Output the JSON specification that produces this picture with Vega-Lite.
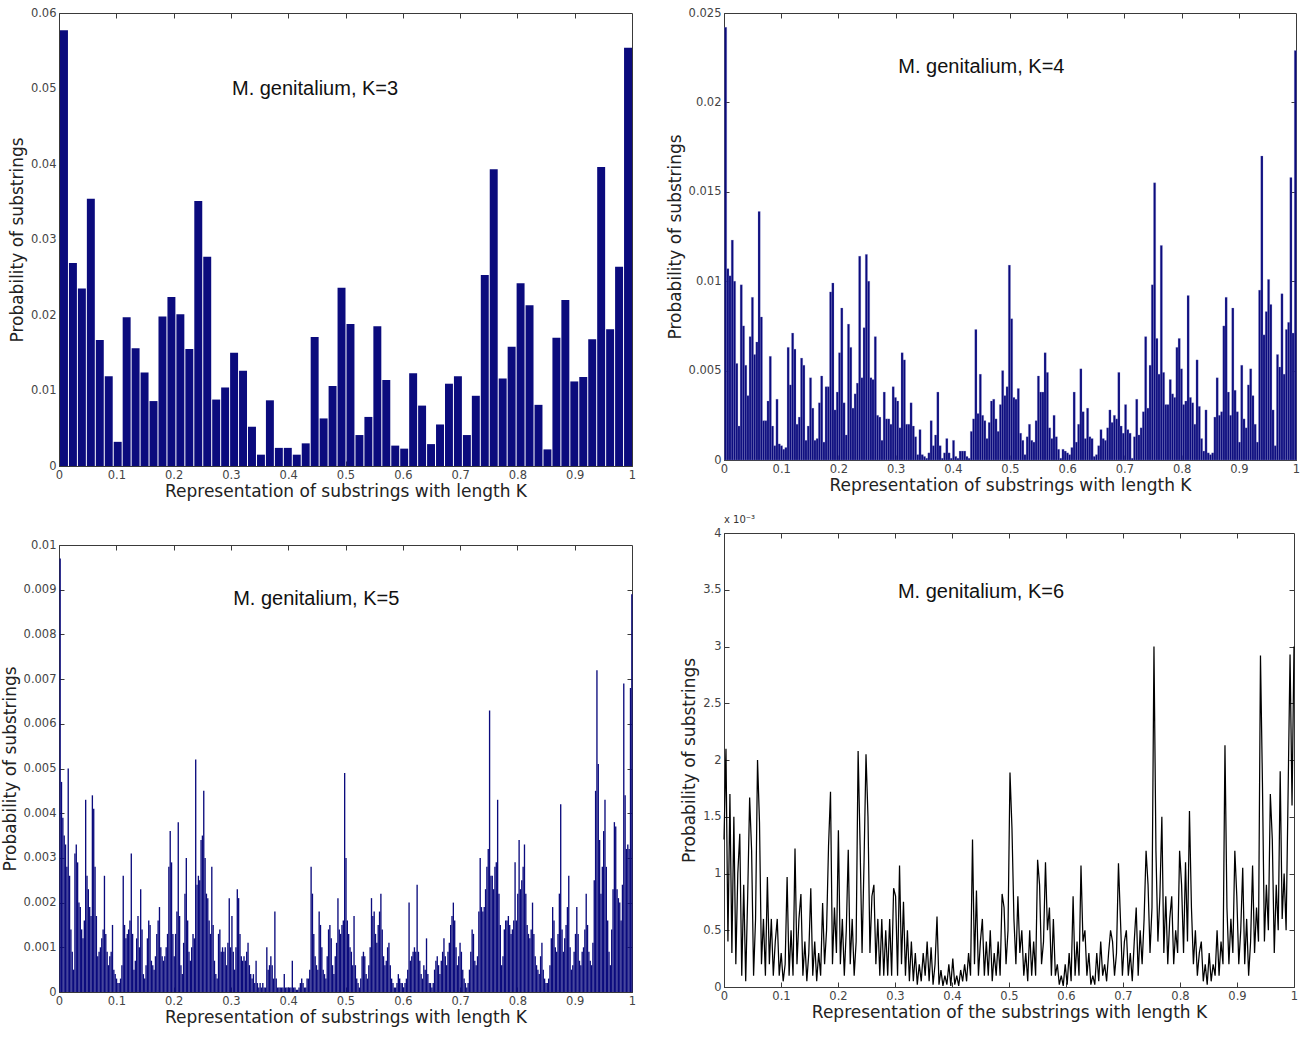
{
"$schema": "https://vega.github.io/schema/vega-lite/v6.json",
"background": "white",
"padding": {"left": 0, "top": 6, "right": 0, "bottom": 2},
"config": {
  "font": "DejaVu Sans",
  "view": {"stroke": "#3a3a3a", "strokeWidth": 1},
  "axis": {"grid": false, "domainColor": "#3a3a3a", "tickColor": "#3a3a3a", "tickSize": -5, "labelPadding": 8, "labelFont": "DejaVu Sans", "labelFontSize": 11.5, "labelColor": "#444", "titleFont": "DejaVu Sans", "titleFontSize": 17, "titleFontWeight": "normal", "titleColor": "#222"},
  "axisX": {"titlePadding": 3, "labelFlush": false},
  "axisY": {"titlePadding": 4}
},
"datasets": {
"k3": [{"i":0,"p":0.0577},{"i":1,"p":0.0269},{"i":2,"p":0.0235},{"i":3,"p":0.0354},{"i":4,"p":0.0167},{"i":5,"p":0.0119},{"i":6,"p":0.0032},{"i":7,"p":0.0197},{"i":8,"p":0.0156},{"i":9,"p":0.0124},{"i":10,"p":0.0086},{"i":11,"p":0.0198},{"i":12,"p":0.0224},{"i":13,"p":0.0201},{"i":14,"p":0.0155},{"i":15,"p":0.0351},{"i":16,"p":0.0277},{"i":17,"p":0.0088},{"i":18,"p":0.0104},{"i":19,"p":0.015},{"i":20,"p":0.0126},{"i":21,"p":0.0052},{"i":22,"p":0.0015},{"i":23,"p":0.0087},{"i":24,"p":0.0024},{"i":25,"p":0.0024},{"i":26,"p":0.0015},{"i":27,"p":0.003},{"i":28,"p":0.0171},{"i":29,"p":0.0063},{"i":30,"p":0.0106},{"i":31,"p":0.0236},{"i":32,"p":0.0188},{"i":33,"p":0.0041},{"i":34,"p":0.0065},{"i":35,"p":0.0185},{"i":36,"p":0.0114},{"i":37,"p":0.0027},{"i":38,"p":0.0023},{"i":39,"p":0.0123},{"i":40,"p":0.008},{"i":41,"p":0.0029},{"i":42,"p":0.0055},{"i":43,"p":0.0109},{"i":44,"p":0.0119},{"i":45,"p":0.0041},{"i":46,"p":0.0093},{"i":47,"p":0.0253},{"i":48,"p":0.0393},{"i":49,"p":0.0116},{"i":50,"p":0.0158},{"i":51,"p":0.0242},{"i":52,"p":0.0213},{"i":53,"p":0.0081},{"i":54,"p":0.0022},{"i":55,"p":0.017},{"i":56,"p":0.022},{"i":57,"p":0.0112},{"i":58,"p":0.0118},{"i":59,"p":0.0168},{"i":60,"p":0.0396},{"i":61,"p":0.0181},{"i":62,"p":0.0264},{"i":63,"p":0.0554}],
"k4": [{"i":0,"p":0.0242},{"i":1,"p":0.0107},{"i":2,"p":0.0103},{"i":3,"p":0.0123},{"i":4,"p":0.01},{"i":5,"p":0.0054},{"i":6,"p":0.0019},{"i":7,"p":0.0098},{"i":8,"p":0.0075},{"i":9,"p":0.0053},{"i":10,"p":0.0036},{"i":11,"p":0.0069},{"i":12,"p":0.0091},{"i":13,"p":0.0059},{"i":14,"p":0.0066},{"i":15,"p":0.0139},{"i":16,"p":0.008},{"i":17,"p":0.0022},{"i":18,"p":0.0022},{"i":19,"p":0.0033},{"i":20,"p":0.0058},{"i":21,"p":0.0019},{"i":22,"p":0.0008},{"i":23,"p":0.0034},{"i":24,"p":0.0009},{"i":25,"p":0.0008},{"i":26,"p":0.0006},{"i":27,"p":0.0007},{"i":28,"p":0.0063},{"i":29,"p":0.0042},{"i":30,"p":0.0071},{"i":31,"p":0.0062},{"i":32,"p":0.002},{"i":33,"p":0.0024},{"i":34,"p":0.0057},{"i":35,"p":0.0053},{"i":36,"p":0.0011},{"i":37,"p":0.0019},{"i":38,"p":0.0046},{"i":39,"p":0.0029},{"i":40,"p":0.0011},{"i":41,"p":0.0012},{"i":42,"p":0.0032},{"i":43,"p":0.0047},{"i":44,"p":0.001},{"i":45,"p":0.0041},{"i":46,"p":0.0041},{"i":47,"p":0.0094},{"i":48,"p":0.0099},{"i":49,"p":0.0028},{"i":50,"p":0.0038},{"i":51,"p":0.006},{"i":52,"p":0.0085},{"i":53,"p":0.0032},{"i":54,"p":0.0014},{"i":55,"p":0.0076},{"i":56,"p":0.0063},{"i":57,"p":0.0029},{"i":58,"p":0.0037},{"i":59,"p":0.0043},{"i":60,"p":0.0114},{"i":61,"p":0.0046},{"i":62,"p":0.0074},{"i":63,"p":0.0115},{"i":64,"p":0.01},{"i":65,"p":0.0046},{"i":66,"p":0.0045},{"i":67,"p":0.0069},{"i":68,"p":0.0025},{"i":69,"p":0.0024},{"i":70,"p":0.0011},{"i":71,"p":0.0038},{"i":72,"p":0.0023},{"i":73,"p":0.0023},{"i":74,"p":0.002},{"i":75,"p":0.0041},{"i":76,"p":0.0035},{"i":77,"p":0.0033},{"i":78,"p":0.0018},{"i":79,"p":0.006},{"i":80,"p":0.0056},{"i":81,"p":0.002},{"i":82,"p":0.002},{"i":83,"p":0.0032},{"i":84,"p":0.0019},{"i":85,"p":0.0013},{"i":86,"p":0.0003},{"i":87,"p":0.0017},{"i":88,"p":0.0003},{"i":89,"p":0.0002},{"i":90,"p":0.0001},{"i":91,"p":0.0004},{"i":92,"p":0.0022},{"i":93,"p":0.0008},{"i":94,"p":0.0014},{"i":95,"p":0.0038},{"i":96,"p":0.0008},{"i":97,"p":0.0001},{"i":98,"p":0.0004},{"i":99,"p":0.0012},{"i":100,"p":0.0004},{"i":101,"p":0.0001},{"i":102,"p":0.0011},{"i":103,"p":0.0002},{"i":104,"p":0.0001},{"i":105,"p":0.0005},{"i":106,"p":0.0005},{"i":107,"p":0.0005},{"i":108,"p":0.0002},{"i":109,"p":0.0001},{"i":110,"p":0.0016},{"i":111,"p":0.0023},{"i":112,"p":0.0073},{"i":113,"p":0.0026},{"i":114,"p":0.0048},{"i":115,"p":0.0025},{"i":116,"p":0.0022},{"i":117,"p":0.0012},{"i":118,"p":0.0021},{"i":119,"p":0.0033},{"i":120,"p":0.0034},{"i":121,"p":0.0023},{"i":122,"p":0.0016},{"i":123,"p":0.0031},{"i":124,"p":0.005},{"i":125,"p":0.0036},{"i":126,"p":0.0041},{"i":127,"p":0.0109},{"i":128,"p":0.0079},{"i":129,"p":0.0035},{"i":130,"p":0.0034},{"i":131,"p":0.004},{"i":132,"p":0.0015},{"i":133,"p":0.0011},{"i":134,"p":0.0003},{"i":135,"p":0.0013},{"i":136,"p":0.002},{"i":137,"p":0.0011},{"i":138,"p":0.001},{"i":139,"p":0.0022},{"i":140,"p":0.0047},{"i":141,"p":0.0038},{"i":142,"p":0.0038},{"i":143,"p":0.006},{"i":144,"p":0.0049},{"i":145,"p":0.0018},{"i":146,"p":0.0012},{"i":147,"p":0.0025},{"i":148,"p":0.0013},{"i":149,"p":0.0006},{"i":150,"p":0.0001},{"i":151,"p":0.0006},{"i":152,"p":0.0005},{"i":153,"p":0.0004},{"i":154,"p":0.0003},{"i":155,"p":0.0007},{"i":156,"p":0.0038},{"i":157,"p":0.001},{"i":158,"p":0.002},{"i":159,"p":0.0051},{"i":160,"p":0.0027},{"i":161,"p":0.0012},{"i":162,"p":0.0029},{"i":163,"p":0.0013},{"i":164,"p":0.0012},{"i":165,"p":0.0002},{"i":166,"p":0.0003},{"i":167,"p":0.0008},{"i":168,"p":0.0017},{"i":169,"p":0.0012},{"i":170,"p":0.0011},{"i":171,"p":0.0018},{"i":172,"p":0.0028},{"i":173,"p":0.0021},{"i":174,"p":0.0025},{"i":175,"p":0.0023},{"i":176,"p":0.0049},{"i":177,"p":0.0019},{"i":178,"p":0.0015},{"i":179,"p":0.0031},{"i":180,"p":0.0017},{"i":181,"p":0.0015},{"i":182,"p":0.0001},{"i":183,"p":0.0013},{"i":184,"p":0.0034},{"i":185,"p":0.0014},{"i":186,"p":0.0018},{"i":187,"p":0.0027},{"i":188,"p":0.0069},{"i":189,"p":0.0029},{"i":190,"p":0.0053},{"i":191,"p":0.0098},{"i":192,"p":0.0155},{"i":193,"p":0.0068},{"i":194,"p":0.0048},{"i":195,"p":0.012},{"i":196,"p":0.0049},{"i":197,"p":0.0031},{"i":198,"p":0.0031},{"i":199,"p":0.0045},{"i":200,"p":0.0037},{"i":201,"p":0.0035},{"i":202,"p":0.0063},{"i":203,"p":0.0068},{"i":204,"p":0.0051},{"i":205,"p":0.0031},{"i":206,"p":0.0033},{"i":207,"p":0.0092},{"i":208,"p":0.0035},{"i":209,"p":0.0032},{"i":210,"p":0.002},{"i":211,"p":0.0056},{"i":212,"p":0.003},{"i":213,"p":0.0012},{"i":214,"p":0.0005},{"i":215,"p":0.0028},{"i":216,"p":0.0004},{"i":217,"p":0.0003},{"i":218,"p":0.0004},{"i":219,"p":0.0024},{"i":220,"p":0.0046},{"i":221,"p":0.0025},{"i":222,"p":0.0027},{"i":223,"p":0.0075},{"i":224,"p":0.0091},{"i":225,"p":0.0038},{"i":226,"p":0.0025},{"i":227,"p":0.0085},{"i":228,"p":0.0039},{"i":229,"p":0.0027},{"i":230,"p":0.001},{"i":231,"p":0.0053},{"i":232,"p":0.0023},{"i":233,"p":0.0018},{"i":234,"p":0.0042},{"i":235,"p":0.0051},{"i":236,"p":0.0036},{"i":237,"p":0.002},{"i":238,"p":0.001},{"i":239,"p":0.0095},{"i":240,"p":0.017},{"i":241,"p":0.007},{"i":242,"p":0.0083},{"i":243,"p":0.0101},{"i":244,"p":0.0087},{"i":245,"p":0.0028},{"i":246,"p":0.0008},{"i":247,"p":0.0059},{"i":248,"p":0.0052},{"i":249,"p":0.0093},{"i":250,"p":0.0048},{"i":251,"p":0.0073},{"i":252,"p":0.0077},{"i":253,"p":0.0158},{"i":254,"p":0.0071},{"i":255,"p":0.0229}],
"k5": [{"i":0,"p":0.0097},{"i":1,"p":0.0047},{"i":2,"p":0.0039},{"i":3,"p":0.0035},{"i":4,"p":0.0033},{"i":5,"p":0.0028},{"i":6,"p":0.005},{"i":7,"p":0.0026},{"i":8,"p":0.0014},{"i":9,"p":0.0009},{"i":10,"p":0.0005},{"i":11,"p":0.0031},{"i":12,"p":0.0033},{"i":13,"p":0.0029},{"i":14,"p":0.002},{"i":15,"p":0.0019},{"i":16,"p":0.0014},{"i":17,"p":0.0012},{"i":18,"p":0.0016},{"i":19,"p":0.0043},{"i":20,"p":0.0026},{"i":21,"p":0.0023},{"i":22,"p":0.0019},{"i":23,"p":0.0017},{"i":24,"p":0.0044},{"i":25,"p":0.0041},{"i":26,"p":0.0028},{"i":27,"p":0.0017},{"i":28,"p":0.0008},{"i":29,"p":0.0009},{"i":30,"p":0.001},{"i":31,"p":0.0012},{"i":32,"p":0.0014},{"i":33,"p":0.0026},{"i":34,"p":0.0013},{"i":35,"p":0.0009},{"i":36,"p":0.0006},{"i":37,"p":0.0008},{"i":38,"p":0.0009},{"i":39,"p":0.0015},{"i":40,"p":0.0005},{"i":41,"p":0.0004},{"i":42,"p":0.0003},{"i":43,"p":0.0002},{"i":44,"p":0.0002},{"i":45,"p":0.0003},{"i":46,"p":0.0006},{"i":47,"p":0.0026},{"i":48,"p":0.0015},{"i":49,"p":0.0012},{"i":50,"p":0.0013},{"i":51,"p":0.0014},{"i":52,"p":0.0016},{"i":53,"p":0.0031},{"i":54,"p":0.0013},{"i":55,"p":0.0005},{"i":56,"p":0.0007},{"i":57,"p":0.0012},{"i":58,"p":0.0017},{"i":59,"p":0.001},{"i":60,"p":0.0023},{"i":61,"p":0.0014},{"i":62,"p":0.0004},{"i":63,"p":0.0003},{"i":64,"p":0.0006},{"i":65,"p":0.0012},{"i":66,"p":0.0016},{"i":67,"p":0.0015},{"i":68,"p":0.0007},{"i":69,"p":0.0006},{"i":70,"p":0.0005},{"i":71,"p":0.0008},{"i":72,"p":0.0013},{"i":73,"p":0.0016},{"i":74,"p":0.0019},{"i":75,"p":0.001},{"i":76,"p":0.0008},{"i":77,"p":0.0007},{"i":78,"p":0.0008},{"i":79,"p":0.001},{"i":80,"p":0.0013},{"i":81,"p":0.0028},{"i":82,"p":0.0036},{"i":83,"p":0.0029},{"i":84,"p":0.0013},{"i":85,"p":0.0008},{"i":86,"p":0.0013},{"i":87,"p":0.0018},{"i":88,"p":0.0038},{"i":89,"p":0.0017},{"i":90,"p":0.0006},{"i":91,"p":0.0004},{"i":92,"p":0.0011},{"i":93,"p":0.0022},{"i":94,"p":0.003},{"i":95,"p":0.0016},{"i":96,"p":0.0009},{"i":97,"p":0.0007},{"i":98,"p":0.001},{"i":99,"p":0.0013},{"i":100,"p":0.0012},{"i":101,"p":0.0052},{"i":102,"p":0.0024},{"i":103,"p":0.0026},{"i":104,"p":0.0025},{"i":105,"p":0.0034},{"i":106,"p":0.0035},{"i":107,"p":0.0045},{"i":108,"p":0.003},{"i":109,"p":0.0022},{"i":110,"p":0.0021},{"i":111,"p":0.0016},{"i":112,"p":0.0013},{"i":113,"p":0.0028},{"i":114,"p":0.0015},{"i":115,"p":0.0007},{"i":116,"p":0.0004},{"i":117,"p":0.0003},{"i":118,"p":0.0013},{"i":119,"p":0.0014},{"i":120,"p":0.0009},{"i":121,"p":0.001},{"i":122,"p":0.0009},{"i":123,"p":0.001},{"i":124,"p":0.0006},{"i":125,"p":0.0011},{"i":126,"p":0.0021},{"i":127,"p":0.001},{"i":128,"p":0.0017},{"i":129,"p":0.0009},{"i":130,"p":0.0005},{"i":131,"p":0.001},{"i":132,"p":0.0023},{"i":133,"p":0.0021},{"i":134,"p":0.0013},{"i":135,"p":0.0008},{"i":136,"p":0.0007},{"i":137,"p":0.0008},{"i":138,"p":0.0007},{"i":139,"p":0.0009},{"i":140,"p":0.0011},{"i":141,"p":0.0006},{"i":142,"p":0.0004},{"i":143,"p":0.0003},{"i":144,"p":0.0004},{"i":145,"p":0.0002},{"i":146,"p":0.0007},{"i":147,"p":0.0002},{"i":148,"p":0.0001},{"i":149,"p":0.0002},{"i":150,"p":0.0001},{"i":151,"p":0.0002},{"i":152,"p":0.0001},{"i":153,"p":0.0001},{"i":154,"p":0.001},{"i":155,"p":0.0005},{"i":156,"p":0.0006},{"i":157,"p":0.0008},{"i":158,"p":0.0006},{"i":159,"p":0.0003},{"i":160,"p":0.0018},{"i":161,"p":0.0003},{"i":162,"p":0.0001},{"i":163,"p":0.0001},{"i":164,"p":0.0001},{"i":165,"p":0.0001},{"i":166,"p":0.0001},{"i":167,"p":0.0004},{"i":168,"p":0.0001},{"i":169,"p":0.0001},{"i":170,"p":0.0001},{"i":171,"p":0.0001},{"i":172,"p":0.0001},{"i":173,"p":0.0007},{"i":174,"p":0.0001},{"i":175,"p":0.0001},{"i":176,"p":0.00005},{"i":177,"p":0.00005},{"i":178,"p":0.0001},{"i":179,"p":0.0002},{"i":180,"p":0.0003},{"i":181,"p":0.0002},{"i":182,"p":0.0001},{"i":183,"p":0.0001},{"i":184,"p":0.0003},{"i":185,"p":0.0003},{"i":186,"p":0.0005},{"i":187,"p":0.0028},{"i":188,"p":0.0022},{"i":189,"p":0.0013},{"i":190,"p":0.0008},{"i":191,"p":0.0006},{"i":192,"p":0.0005},{"i":193,"p":0.0018},{"i":194,"p":0.0015},{"i":195,"p":0.001},{"i":196,"p":0.0005},{"i":197,"p":0.0004},{"i":198,"p":0.0003},{"i":199,"p":0.0008},{"i":200,"p":0.0014},{"i":201,"p":0.0015},{"i":202,"p":0.0012},{"i":203,"p":0.0006},{"i":204,"p":0.0004},{"i":205,"p":0.0008},{"i":206,"p":0.0011},{"i":207,"p":0.0021},{"i":208,"p":0.0014},{"i":209,"p":0.0013},{"i":210,"p":0.0015},{"i":211,"p":0.0016},{"i":212,"p":0.0049},{"i":213,"p":0.003},{"i":214,"p":0.0016},{"i":215,"p":0.0013},{"i":216,"p":0.001},{"i":217,"p":0.0009},{"i":218,"p":0.0006},{"i":219,"p":0.0017},{"i":220,"p":0.0006},{"i":221,"p":0.0003},{"i":222,"p":0.0002},{"i":223,"p":0.0001},{"i":224,"p":0.0003},{"i":225,"p":0.0008},{"i":226,"p":0.0009},{"i":227,"p":0.0008},{"i":228,"p":0.0004},{"i":229,"p":0.0003},{"i":230,"p":0.0006},{"i":231,"p":0.001},{"i":232,"p":0.0021},{"i":233,"p":0.0017},{"i":234,"p":0.0018},{"i":235,"p":0.0013},{"i":236,"p":0.0011},{"i":237,"p":0.0015},{"i":238,"p":0.0018},{"i":239,"p":0.0022},{"i":240,"p":0.0014},{"i":241,"p":0.0008},{"i":242,"p":0.0006},{"i":243,"p":0.0007},{"i":244,"p":0.001},{"i":245,"p":0.0011},{"i":246,"p":0.0006},{"i":247,"p":0.0003},{"i":248,"p":0.0002},{"i":249,"p":0.0001},{"i":250,"p":0.0001},{"i":251,"p":0.0002},{"i":252,"p":0.0004},{"i":253,"p":0.0003},{"i":254,"p":0.0002},{"i":255,"p":0.0002},{"i":256,"p":0.0001},{"i":257,"p":0.0002},{"i":258,"p":0.0003},{"i":259,"p":0.0005},{"i":260,"p":0.002},{"i":261,"p":0.0007},{"i":262,"p":0.0008},{"i":263,"p":0.0009},{"i":264,"p":0.001},{"i":265,"p":0.0009},{"i":266,"p":0.0024},{"i":267,"p":0.0009},{"i":268,"p":0.0007},{"i":269,"p":0.0004},{"i":270,"p":0.0003},{"i":271,"p":0.0006},{"i":272,"p":0.0005},{"i":273,"p":0.0012},{"i":274,"p":0.0004},{"i":275,"p":0.0002},{"i":276,"p":0.0002},{"i":277,"p":0.0001},{"i":278,"p":0.0002},{"i":279,"p":0.0005},{"i":280,"p":0.0007},{"i":281,"p":0.0008},{"i":282,"p":0.0006},{"i":283,"p":0.0004},{"i":284,"p":0.0007},{"i":285,"p":0.0009},{"i":286,"p":0.0012},{"i":287,"p":0.0008},{"i":288,"p":0.0006},{"i":289,"p":0.0009},{"i":290,"p":0.0011},{"i":291,"p":0.0015},{"i":292,"p":0.0017},{"i":293,"p":0.002},{"i":294,"p":0.0016},{"i":295,"p":0.001},{"i":296,"p":0.0006},{"i":297,"p":0.0008},{"i":298,"p":0.0011},{"i":299,"p":0.0009},{"i":300,"p":0.0005},{"i":301,"p":0.0003},{"i":302,"p":0.0002},{"i":303,"p":0.0001},{"i":304,"p":0.0002},{"i":305,"p":0.0005},{"i":306,"p":0.0009},{"i":307,"p":0.0014},{"i":308,"p":0.0013},{"i":309,"p":0.0007},{"i":310,"p":0.0006},{"i":311,"p":0.0008},{"i":312,"p":0.0018},{"i":313,"p":0.003},{"i":314,"p":0.0019},{"i":315,"p":0.0018},{"i":316,"p":0.0019},{"i":317,"p":0.0023},{"i":318,"p":0.0028},{"i":319,"p":0.0032},{"i":320,"p":0.0063},{"i":321,"p":0.0026},{"i":322,"p":0.0026},{"i":323,"p":0.0023},{"i":324,"p":0.0028},{"i":325,"p":0.0029},{"i":326,"p":0.0043},{"i":327,"p":0.0022},{"i":328,"p":0.0015},{"i":329,"p":0.0006},{"i":330,"p":0.0008},{"i":331,"p":0.0014},{"i":332,"p":0.0016},{"i":333,"p":0.0016},{"i":334,"p":0.0017},{"i":335,"p":0.0015},{"i":336,"p":0.0013},{"i":337,"p":0.0014},{"i":338,"p":0.0016},{"i":339,"p":0.0029},{"i":340,"p":0.0016},{"i":341,"p":0.0022},{"i":342,"p":0.0034},{"i":343,"p":0.0023},{"i":344,"p":0.0025},{"i":345,"p":0.0028},{"i":346,"p":0.0033},{"i":347,"p":0.0022},{"i":348,"p":0.0015},{"i":349,"p":0.0013},{"i":350,"p":0.0012},{"i":351,"p":0.0014},{"i":352,"p":0.002},{"i":353,"p":0.0013},{"i":354,"p":0.0008},{"i":355,"p":0.0006},{"i":356,"p":0.0005},{"i":357,"p":0.0004},{"i":358,"p":0.0008},{"i":359,"p":0.0011},{"i":360,"p":0.0005},{"i":361,"p":0.0003},{"i":362,"p":0.0002},{"i":363,"p":0.0002},{"i":364,"p":0.0003},{"i":365,"p":0.0006},{"i":366,"p":0.0012},{"i":367,"p":0.0019},{"i":368,"p":0.0016},{"i":369,"p":0.001},{"i":370,"p":0.0009},{"i":371,"p":0.0013},{"i":372,"p":0.0022},{"i":373,"p":0.0042},{"i":374,"p":0.0014},{"i":375,"p":0.0009},{"i":376,"p":0.0012},{"i":377,"p":0.0015},{"i":378,"p":0.0019},{"i":379,"p":0.0026},{"i":380,"p":0.001},{"i":381,"p":0.0005},{"i":382,"p":0.0006},{"i":383,"p":0.0009},{"i":384,"p":0.0013},{"i":385,"p":0.0019},{"i":386,"p":0.0013},{"i":387,"p":0.0007},{"i":388,"p":0.0006},{"i":389,"p":0.0009},{"i":390,"p":0.001},{"i":391,"p":0.0014},{"i":392,"p":0.0022},{"i":393,"p":0.0015},{"i":394,"p":0.0009},{"i":395,"p":0.0007},{"i":396,"p":0.0006},{"i":397,"p":0.0011},{"i":398,"p":0.0025},{"i":399,"p":0.0045},{"i":400,"p":0.0072},{"i":401,"p":0.0051},{"i":402,"p":0.0034},{"i":403,"p":0.0022},{"i":404,"p":0.0028},{"i":405,"p":0.0036},{"i":406,"p":0.0043},{"i":407,"p":0.0028},{"i":408,"p":0.0016},{"i":409,"p":0.0009},{"i":410,"p":0.0006},{"i":411,"p":0.0014},{"i":412,"p":0.0023},{"i":413,"p":0.0038},{"i":414,"p":0.0037},{"i":415,"p":0.0023},{"i":416,"p":0.0021},{"i":417,"p":0.002},{"i":418,"p":0.0016},{"i":419,"p":0.0024},{"i":420,"p":0.0069},{"i":421,"p":0.0044},{"i":422,"p":0.0032},{"i":423,"p":0.0033},{"i":424,"p":0.0032},{"i":425,"p":0.0068},{"i":426,"p":0.0089}],
"k6": [{"i":0,"p":1.3},{"i":1,"p":2.1},{"i":2,"p":0.4},{"i":3,"p":1.7},{"i":4,"p":0.3},{"i":5,"p":1.5},{"i":6,"p":0.2},{"i":7,"p":1.0},{"i":8,"p":1.35},{"i":9,"p":0.1},{"i":10,"p":0.9},{"i":11,"p":0.05},{"i":12,"p":0.8},{"i":13,"p":1.67},{"i":14,"p":1.2},{"i":15,"p":0.1},{"i":16,"p":0.6},{"i":17,"p":2.0},{"i":18,"p":1.45},{"i":19,"p":0.2},{"i":20,"p":0.6},{"i":21,"p":0.1},{"i":22,"p":0.97},{"i":23,"p":0.2},{"i":24,"p":0.6},{"i":25,"p":0.1},{"i":26,"p":0.4},{"i":27,"p":0.6},{"i":28,"p":0.1},{"i":29,"p":0.3},{"i":30,"p":0.05},{"i":31,"p":0.2},{"i":32,"p":0.97},{"i":33,"p":0.1},{"i":34,"p":0.5},{"i":35,"p":0.1},{"i":36,"p":1.22},{"i":37,"p":0.2},{"i":38,"p":0.6},{"i":39,"p":0.82},{"i":40,"p":0.1},{"i":41,"p":0.4},{"i":42,"p":0.05},{"i":43,"p":0.3},{"i":44,"p":0.87},{"i":45,"p":0.1},{"i":46,"p":0.4},{"i":47,"p":0.05},{"i":48,"p":0.3},{"i":49,"p":0.1},{"i":50,"p":0.74},{"i":51,"p":0.2},{"i":52,"p":0.5},{"i":53,"p":1.24},{"i":54,"p":1.72},{"i":55,"p":0.2},{"i":56,"p":0.7},{"i":57,"p":0.3},{"i":58,"p":1.38},{"i":59,"p":0.2},{"i":60,"p":0.6},{"i":61,"p":0.1},{"i":62,"p":0.5},{"i":63,"p":1.21},{"i":64,"p":0.2},{"i":65,"p":0.6},{"i":66,"p":0.1},{"i":67,"p":0.4},{"i":68,"p":2.08},{"i":69,"p":1.25},{"i":70,"p":0.3},{"i":71,"p":1.1},{"i":72,"p":2.05},{"i":73,"p":1.5},{"i":74,"p":0.3},{"i":75,"p":0.8},{"i":76,"p":0.9},{"i":77,"p":0.2},{"i":78,"p":0.6},{"i":79,"p":0.1},{"i":80,"p":0.6},{"i":81,"p":0.1},{"i":82,"p":0.5},{"i":83,"p":0.1},{"i":84,"p":0.6},{"i":85,"p":0.1},{"i":86,"p":0.87},{"i":87,"p":0.8},{"i":88,"p":0.1},{"i":89,"p":1.07},{"i":90,"p":0.2},{"i":91,"p":0.75},{"i":92,"p":0.1},{"i":93,"p":0.5},{"i":94,"p":0.05},{"i":95,"p":0.4},{"i":96,"p":0.05},{"i":97,"p":0.3},{"i":98,"p":0.02},{"i":99,"p":0.2},{"i":100,"p":0.05},{"i":101,"p":0.3},{"i":102,"p":0.1},{"i":103,"p":0.4},{"i":104,"p":0.05},{"i":105,"p":0.35},{"i":106,"p":0.02},{"i":107,"p":0.2},{"i":108,"p":0.62},{"i":109,"p":0.02},{"i":110,"p":0.15},{"i":111,"p":0.01},{"i":112,"p":0.1},{"i":113,"p":0.02},{"i":114,"p":0.2},{"i":115,"p":0.01},{"i":116,"p":0.25},{"i":117,"p":0.02},{"i":118,"p":0.1},{"i":119,"p":0.01},{"i":120,"p":0.15},{"i":121,"p":0.05},{"i":122,"p":0.2},{"i":123,"p":0.05},{"i":124,"p":0.3},{"i":125,"p":0.1},{"i":126,"p":1.3},{"i":127,"p":0.2},{"i":128,"p":0.85},{"i":129,"p":0.1},{"i":130,"p":0.4},{"i":131,"p":0.6},{"i":132,"p":0.1},{"i":133,"p":0.4},{"i":134,"p":0.1},{"i":135,"p":0.5},{"i":136,"p":0.05},{"i":137,"p":0.3},{"i":138,"p":0.1},{"i":139,"p":0.4},{"i":140,"p":0.1},{"i":141,"p":0.82},{"i":142,"p":0.7},{"i":143,"p":0.2},{"i":144,"p":0.5},{"i":145,"p":1.89},{"i":146,"p":1.4},{"i":147,"p":0.6},{"i":148,"p":0.2},{"i":149,"p":0.8},{"i":150,"p":0.3},{"i":151,"p":0.5},{"i":152,"p":0.1},{"i":153,"p":0.3},{"i":154,"p":0.05},{"i":155,"p":0.5},{"i":156,"p":0.1},{"i":157,"p":0.4},{"i":158,"p":0.1},{"i":159,"p":1.12},{"i":160,"p":0.9},{"i":161,"p":0.2},{"i":162,"p":0.4},{"i":163,"p":1.1},{"i":164,"p":0.5},{"i":165,"p":0.7},{"i":166,"p":0.1},{"i":167,"p":0.6},{"i":168,"p":0.1},{"i":169,"p":0.2},{"i":170,"p":0.02},{"i":171,"p":0.1},{"i":172,"p":0.01},{"i":173,"p":0.2},{"i":174,"p":0.02},{"i":175,"p":0.3},{"i":176,"p":0.05},{"i":177,"p":0.8},{"i":178,"p":0.1},{"i":179,"p":0.4},{"i":180,"p":0.1},{"i":181,"p":1.07},{"i":182,"p":0.4},{"i":183,"p":0.5},{"i":184,"p":0.1},{"i":185,"p":0.3},{"i":186,"p":0.02},{"i":187,"p":0.1},{"i":188,"p":0.02},{"i":189,"p":0.3},{"i":190,"p":0.05},{"i":191,"p":0.4},{"i":192,"p":0.1},{"i":193,"p":0.2},{"i":194,"p":0.05},{"i":195,"p":0.3},{"i":196,"p":0.5},{"i":197,"p":0.4},{"i":198,"p":0.1},{"i":199,"p":0.3},{"i":200,"p":1.09},{"i":201,"p":0.6},{"i":202,"p":0.1},{"i":203,"p":0.4},{"i":204,"p":0.5},{"i":205,"p":0.1},{"i":206,"p":0.3},{"i":207,"p":0.05},{"i":208,"p":0.4},{"i":209,"p":0.7},{"i":210,"p":0.1},{"i":211,"p":0.5},{"i":212,"p":0.2},{"i":213,"p":0.6},{"i":214,"p":1.2},{"i":215,"p":0.9},{"i":216,"p":0.3},{"i":217,"p":0.7},{"i":218,"p":3.0},{"i":219,"p":1.2},{"i":220,"p":0.4},{"i":221,"p":0.8},{"i":222,"p":1.5},{"i":223,"p":0.3},{"i":224,"p":0.8},{"i":225,"p":0.2},{"i":226,"p":0.6},{"i":227,"p":0.8},{"i":228,"p":0.2},{"i":229,"p":0.5},{"i":230,"p":0.3},{"i":231,"p":1.2},{"i":232,"p":0.9},{"i":233,"p":0.3},{"i":234,"p":1.1},{"i":235,"p":0.4},{"i":236,"p":1.55},{"i":237,"p":0.7},{"i":238,"p":0.2},{"i":239,"p":0.5},{"i":240,"p":0.1},{"i":241,"p":0.3},{"i":242,"p":0.4},{"i":243,"p":0.05},{"i":244,"p":0.2},{"i":245,"p":0.02},{"i":246,"p":0.3},{"i":247,"p":0.05},{"i":248,"p":0.2},{"i":249,"p":0.1},{"i":250,"p":0.5},{"i":251,"p":0.1},{"i":252,"p":0.4},{"i":253,"p":0.2},{"i":254,"p":2.13},{"i":255,"p":0.7},{"i":256,"p":0.2},{"i":257,"p":0.6},{"i":258,"p":0.3},{"i":259,"p":1.2},{"i":260,"p":0.8},{"i":261,"p":0.2},{"i":262,"p":0.5},{"i":263,"p":1.05},{"i":264,"p":0.2},{"i":265,"p":0.6},{"i":266,"p":0.1},{"i":267,"p":0.4},{"i":268,"p":1.07},{"i":269,"p":0.3},{"i":270,"p":0.7},{"i":271,"p":0.4},{"i":272,"p":2.92},{"i":273,"p":1.8},{"i":274,"p":0.4},{"i":275,"p":0.9},{"i":276,"p":0.5},{"i":277,"p":1.7},{"i":278,"p":1.3},{"i":279,"p":0.3},{"i":280,"p":0.9},{"i":281,"p":0.5},{"i":282,"p":1.9},{"i":283,"p":0.6},{"i":284,"p":1.0},{"i":285,"p":0.5},{"i":286,"p":1.7},{"i":287,"p":2.93},{"i":288,"p":1.6},{"i":289,"p":3.0}]
},
"spacing": 28,
"hconcat": [
 {"spacing": 38, "vconcat": [
  {"width": 573, "height": 453,
   "resolve": {"axis": {"x": "independent", "y": "independent"}},
   "layer": [
    {"data": {"name": "k3"}, "mark": {"type": "bar", "fill": "#0b0b7d", "binSpacing": 1},
     "encoding": {
      "x": {"field": "i", "type": "quantitative", "bin": {"binned": true, "step": 1}, "scale": {"domain": [0, 64], "nice": false, "zero": false}, "axis": {"title": "Representation of substrings with length K", "values": [0,6.4,12.8,19.2,25.6,32,38.4,44.8,51.2,57.6,64], "labelExpr": "format(datum.value/64, '.1~f')"}},
      "y": {"field": "p", "type": "quantitative", "scale": {"domain": [0, 0.06], "nice": false}, "axis": {"title": "Probability of substrings", "values": [0,0.01,0.02,0.03,0.04,0.05,0.06], "format": "~g"}}
     }},
    {"data": {"values": [{"t": "M. genitalium, K=3"}]}, "mark": {"type": "text", "fontSize": 20, "font": "Liberation Sans", "color": "#111"},
     "encoding": {
      "x": {"datum": 28.6, "type": "quantitative", "axis": {"orient": "top", "labels": false, "title": null, "domain": false, "values": [6.4,12.8,19.2,25.6,32,38.4,44.8,51.2,57.6]}},
      "y": {"datum": 0.0499, "type": "quantitative", "axis": {"orient": "right", "labels": false, "title": null, "domain": false, "values": [0.01,0.02,0.03,0.04,0.05]}},
      "text": {"field": "t"}}}
   ]},
  {"width": 573, "height": 447,
   "resolve": {"axis": {"x": "independent", "y": "independent"}},
   "layer": [
    {"data": {"name": "k5"}, "mark": {"type": "bar", "fill": "#0b0b7d", "binSpacing": 0},
     "encoding": {
      "x": {"field": "i", "type": "quantitative", "bin": {"binned": true, "step": 1}, "scale": {"domain": [0, 427], "nice": false, "zero": false}, "axis": {"title": "Representation of substrings with length K", "values": [0,42.7,85.4,128.1,170.8,213.5,256.2,298.9,341.6,384.3,427], "labelExpr": "format(datum.value/427, '.1~f')"}},
      "y": {"field": "p", "type": "quantitative", "scale": {"domain": [0, 0.01], "nice": false}, "axis": {"title": "Probability of substrings", "values": [0,0.001,0.002,0.003,0.004,0.005,0.006,0.007,0.008,0.009,0.01], "format": "~g"}}
     }},
    {"data": {"values": [{"t": "M. genitalium, K=5"}]}, "mark": {"type": "text", "fontSize": 20, "font": "Liberation Sans", "color": "#111"},
     "encoding": {
      "x": {"datum": 191.7, "type": "quantitative", "axis": {"orient": "top", "labels": false, "title": null, "domain": false, "values": [42.7,85.4,128.1,170.8,213.5,256.2,298.9,341.6,384.3]}},
      "y": {"datum": 0.00879, "type": "quantitative", "axis": {"orient": "right", "labels": false, "title": null, "domain": false, "values": [0.001,0.002,0.003,0.004,0.005,0.006,0.007,0.008,0.009]}},
      "text": {"field": "t"}}}
   ]}
 ]},
 {"spacing": 20, "vconcat": [
  {"width": 572, "height": 447,
   "resolve": {"axis": {"x": "independent", "y": "independent"}},
   "layer": [
    {"data": {"name": "k4"}, "mark": {"type": "bar", "fill": "#0b0b7d", "binSpacing": 0, "stroke": "#8c8cd0", "strokeWidth": 0.25},
     "encoding": {
      "x": {"field": "i", "type": "quantitative", "bin": {"binned": true, "step": 1}, "scale": {"domain": [0, 256], "nice": false, "zero": false}, "axis": {"title": "Representation of substrings with length K", "values": [0,25.6,51.2,76.8,102.4,128,153.6,179.2,204.8,230.4,256], "labelExpr": "format(datum.value/256, '.1~f')"}},
      "y": {"field": "p", "type": "quantitative", "scale": {"domain": [0, 0.025], "nice": false}, "axis": {"title": "Probability of substrings", "values": [0,0.005,0.01,0.015,0.02,0.025], "format": "~g"}}
     }},
    {"data": {"values": [{"t": "M. genitalium, K=4"}]}, "mark": {"type": "text", "fontSize": 20, "font": "Liberation Sans", "color": "#111"},
     "encoding": {
      "x": {"datum": 115.2, "type": "quantitative", "axis": {"orient": "top", "labels": false, "title": null, "domain": false, "values": [25.6,51.2,76.8,102.4,128,153.6,179.2,204.8,230.4]}},
      "y": {"datum": 0.022, "type": "quantitative", "axis": {"orient": "right", "labels": false, "title": null, "domain": false, "values": [0.005,0.01,0.015,0.02]}},
      "text": {"field": "t"}}}
   ]},
  {"width": 570, "height": 454,
   "title": {"text": "x 10⁻³", "anchor": "start", "frame": "group", "fontSize": 10, "fontWeight": "normal", "color": "#333", "font": "DejaVu Sans", "offset": 2},
   "resolve": {"axis": {"x": "independent", "y": "independent"}},
   "layer": [
    {"data": {"name": "k6"}, "mark": {"type": "line", "color": "#000000", "strokeWidth": 1.25},
     "encoding": {
      "x": {"field": "i", "type": "quantitative", "scale": {"domain": [0, 289], "nice": false, "zero": false}, "axis": {"title": "Representation of the substrings with length K", "values": [0,28.9,57.8,86.7,115.6,144.5,173.4,202.3,231.2,260.1,289], "labelExpr": "format(datum.value/289, '.1~f')"}},
      "y": {"field": "p", "type": "quantitative", "scale": {"domain": [0, 4], "nice": false}, "axis": {"title": "Probability of substrings", "values": [0,0.5,1,1.5,2,2.5,3,3.5,4], "format": "~g"}}
     }},
    {"data": {"values": [{"t": "M. genitalium, K=6"}]}, "mark": {"type": "text", "fontSize": 20, "font": "Liberation Sans", "color": "#111"},
     "encoding": {
      "x": {"datum": 130.3, "type": "quantitative", "axis": {"orient": "top", "labels": false, "title": null, "domain": false, "values": [28.9,57.8,86.7,115.6,144.5,173.4,202.3,231.2,260.1]}},
      "y": {"datum": 3.48, "type": "quantitative", "axis": {"orient": "right", "labels": false, "title": null, "domain": false, "values": [0.5,1,1.5,2,2.5,3,3.5]}},
      "text": {"field": "t"}}}
   ]}
 ]}
]
}
